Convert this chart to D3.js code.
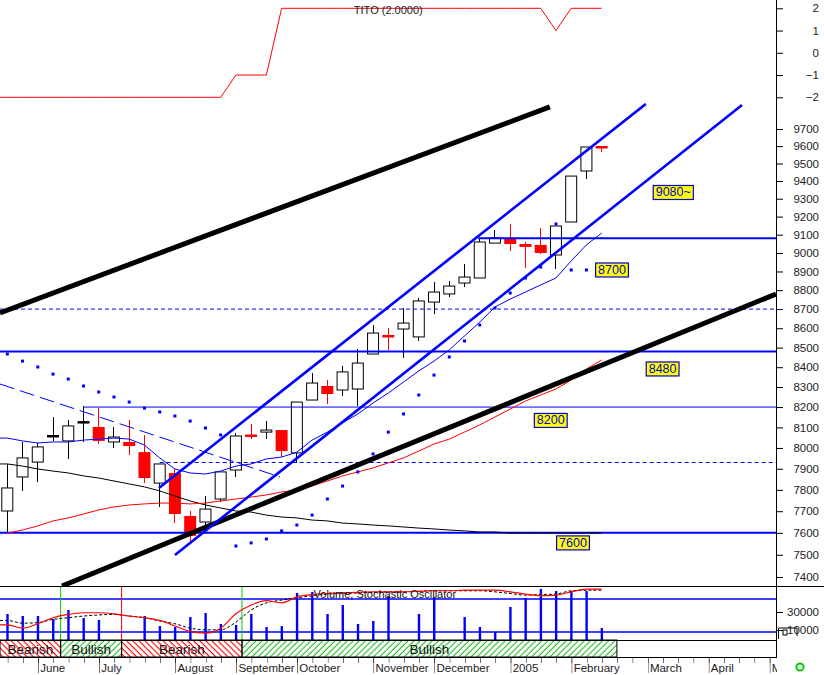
<!DOCTYPE html>
<html><head><meta charset="utf-8">
<script src="https://cdn.jsdelivr.net/npm/d3@7"></script>
<style>body{margin:0;background:#fff}svg{display:block;font-family:Arial,"Liberation Sans",sans-serif}</style>
</head><body><svg id="c" width="824" height="675"></svg>
<script>
// ---------------- DATA ----------------
const weeks = d3.range(40);
const open  = [7701,7861,7932,8058,8034,8126,8102,8029,8029,7980,7832,7880,7678,7650,7757,7894,8063,8077,8087,7976,8235,8305,8285,8290,8467,8562,8596,8555,8737,8780,8838,8865,9054,9082,9049,9044,8989,9170,9457,9597];
const high  = [7923,8029,8024,8151,8136,8205,8195,8102,8136,8063,7923,7899,7701,7771,7885,8073,8117,8131,8087,8225,8371,8335,8406,8493,8617,8601,8706,8758,8844,8849,8940,9076,9126,9159,9060,9137,9148,9428,9595,9600];
const low   = [7599,7795,7837,8034,7947,8029,8019,8000,7966,7832,7720,7645,7563,7627,7743,7861,8043,8043,7956,7928,8235,8215,8255,8205,8467,8488,8447,8534,8674,8764,8817,8865,9054,9011,8919,8995,8913,9170,9411,9566];
const close = [7809,7952,8005,8058,8107,8126,8034,8053,8009,7856,7923,7687,7586,7710,7885,8058,8058,8087,7985,8225,8320,8265,8376,8421,8575,8558,8627,8743,8790,8822,8870,9060,9082,9049,9033,9000,9148,9428,9595,9593];
const sar   = [8467,8431,8401,8365,8340,8305,8275,8250,8225,8195,8176,8156,8131,8097,8063,7540,7554,7572,7609,7636,7682,7757,7818,7885,7971,8077,8166,8260,8360,8452,8534,8617,8706,8785,8865,8924,9159,8908,8908,null];
const redMA   = [7599,7613,7632,7655,7669,7687,7706,7720,7729,7734,7738,7738,7734,7738,7748,7757,7766,7776,7790,7799,7818,7842,7866,7885,7904,7928,7952,7985,8019,8043,8077,8112,8151,8190,8230,8260,8290,8335,8391,8436];
const blueMA  = [8048,8034,8024,8029,8029,8038,8043,8048,8043,8014,7952,7899,7880,7875,7889,7913,7923,7947,7956,7980,8038,8077,8122,8166,8220,8270,8325,8381,8431,8488,8560,8632,8711,8753,8790,8828,8865,8957,9044,9109];
const blackMA = [7923,7913,7899,7889,7880,7866,7856,7842,7828,7814,7795,7771,7748,7729,7715,7701,7696,7682,7673,7669,7659,7655,7645,7641,7636,7632,7627,7622,7618,7613,7609,7604,7604,7599,7599,7599,7599,7599,7599,7599];
const volume  = [27800,25600,25600,22200,32200,23300,21100,0,0,25600,14400,13300,24400,28900,16700,15600,27800,13300,14400,51100,52200,27800,37800,16700,20000,47800,0,27800,46700,0,24400,13300,7800,35600,45600,55600,53300,53300,53300,12200];
const stochK  = [33,27,35,46,52,55,55,53,49,46,41,31,21,18,27,53,69,77,73,84,88,90,91,92,93,93,93,94,95,95,96,96,96,93,89,86,87,93,98,98];
const stochD  = [41,36,37,43,46,49,51,52,49,46,40,35,27,24,24,38,60,73,78,82,86,89,90,91,92,93,93,94,95,95,95,95,93,90,87,88,89,95,96,96];
const stochLevels = [80, 20];
const tito    = [-2,-2,-2,-2,-2,-2,-2,-2,-2,-2,-2,-2,-2,-2,-2,-1,-1,-1,2,2,2,2,2,2,2,2,2,2,2,2,2,2,2,2,2,2,1,2,2,2];

// trend lines: [week, price] endpoints
const trendBlack = [[[-0.48,8680],[35.6,9830]], [[3.59,7360],[50.44,8780]]];
const trendBlue  = [[[9.95,7809],[41.9,9848]], [[11.0,7499],[48.21,9842]]];
const dashDiag   = [[-0.48,8315],[17.89,7861]];
// horizontal levels
const levelPrice = [9080, 8480, 8200, 7600];
const levelFrom  = [30.9, -0.48, 5.0, -0.48];
const levelWidth = [2, 2, 1, 2];
const dashPrice  = [8700, 7930];
const dashFrom   = [-0.48, 10.0];
// yellow labels
const tagText  = ["9080~", "8700", "8480", "8200", "7600"];
const tagWeek  = [43.7, 39.68, 43.0, 35.66, 37.12];
const tagPrice = [9335, 8908, 8391, 8134, 7554];
// signal band
const sigText  = ["Bearish","Bullish","Bearish","Bullish"];
const sigStart = [null, 3.5, 7.5, 15.4];
const sigEnd   = [3.5, 7.5, 15.4, 40];
const sigLineColor = [null, "#00cc00", "#ff0000", "#00cc00"];
// axis labels
const monthLabels = ["June","July","August","September","October","November","December","2005","February","March","April","May"];
const monthWeeks  = [2,6,11,15,19,24,28,33,37,42,46,50];
const priceTicks  = d3.range(7400, 9701, 100);
const priceMinor  = d3.range(7400, 9801, 50);
const titoTicks   = [-2,-1,0,1,2];
const titoMinor   = [-2.5,-1.5,-0.5,0.5,1.5];
const volTicks    = [10000, 30000];
const volMinor    = [0, 20000, 40000, 50000];

// ---------------- SCALES ----------------
const AX = 776;
const x  = d3.scaleLinear().domain([0, 50]).range([7.3, 769.3]);
const yP = d3.scaleLog().domain([7400, 9700]).range([577, 129]);
const yT = d3.scaleLinear().domain([-2, 2]).range([97.3, 8.3]);
const yV = d3.scaleLinear().domain([0, 30000]).range([639, 612]);
const yS = d3.scaleLinear().domain([0, 100]).range([643, 588]);
const w0 = x.invert(0);

const BLUE = "#0000ff", RED = "#ff0000";
const svg = d3.select('#c');
const defs = svg.append('defs');
function clip(id, x0, y0, w, h){ defs.append('clipPath').attr('id', id).append('rect').attr('x', x0).attr('y', y0).attr('width', w).attr('height', h); }
clip('cp', 0, 103, AX, 483);
clip('ct', 0, 0, AX, 104);
clip('cv', 0, 587, AX, 53);
function hatch(id, color, angle){
  const p = defs.append('pattern').attr('id', id).attr('patternUnits', 'userSpaceOnUse')
    .attr('width', 4.3).attr('height', 4.3).attr('patternTransform', `rotate(${angle})`);
  p.append('line').attr('x1', 2).attr('y1', 0).attr('x2', 2).attr('y2', 4.3).attr('stroke', color).attr('stroke-width', 1.1);
}
hatch('hr', RED, -45); hatch('hg', '#22bb22', 45);

// ---------------- TITO PANEL ----------------
const gT = svg.append('g').attr('clip-path', 'url(#ct)');
const titoPts = [[w0, tito[0]]].concat(weeks.map(i => [i, tito[i]]));
gT.append('path').attr('d', d3.line().x(d => x(d[0])).y(d => yT(d[1]))(titoPts))
  .attr('fill', 'none').attr('stroke', RED).attr('stroke-width', 1);
svg.append('text').attr('x', x(25)).attr('y', yT(2) + 2.5).attr('text-anchor', 'middle')
  .attr('dominant-baseline', 'middle').attr('font-size', 11).attr('fill', '#222').text('TITO (2.0000)');

// ---------------- PRICE PANEL ----------------
const gP = svg.append('g').attr('clip-path', 'url(#cp)');

// candles
const cw = 12;
weeks.forEach(i => {
  const o = open[i], c = close[i], h = high[i], l = low[i];
  const doji = o === c, up = c > o;
  const col = doji ? '#000' : (up ? '#000' : RED);
  gP.append('line').attr('x1', x(i)).attr('x2', x(i)).attr('y1', yP(h)).attr('y2', yP(l))
    .attr('stroke', col).attr('stroke-width', 1).attr('shape-rendering', 'crispEdges');
  const top = yP(Math.max(o, c)), bot = yP(Math.min(o, c));
  let hgt = Math.max(bot - top, 2);
  let yy = doji || hgt === 2 ? (top + bot) / 2 - 1 : top;
  if (doji) {
    gP.append('rect').attr('x', x(i) - cw / 2).attr('y', yy).attr('width', cw).attr('height', 2.5).attr('fill', '#000');
  } else if (up) {
    gP.append('rect').attr('x', x(i) - cw / 2 + 0.5).attr('y', top).attr('width', cw - 1).attr('height', hgt)
      .attr('fill', '#fff').attr('stroke', '#000').attr('stroke-width', 1);
  } else {
    gP.append('rect').attr('x', x(i) - cw / 2).attr('y', yy).attr('width', cw).attr('height', hgt + (hgt === 2 ? 0.5 : 0)).attr('fill', RED);
  }
});

// horizontal levels
levelPrice.forEach((p, k) => {
  gP.append('line').attr('x1', x(levelFrom[k])).attr('x2', AX).attr('y1', yP(p)).attr('y2', yP(p))
    .attr('stroke', BLUE).attr('stroke-width', levelWidth[k]);
});
dashPrice.forEach((p, k) => {
  gP.append('line').attr('x1', x(dashFrom[k])).attr('x2', AX).attr('y1', yP(p)).attr('y2', yP(p))
    .attr('stroke', BLUE).attr('stroke-width', 1).attr('stroke-dasharray', '4,3');
});

// moving averages
const maLine = d3.line().x(d => x(d[0])).y(d => yP(d[1]));
function ma(arr, color, extend){
  const pts = (extend ? [[w0, arr[0]]] : []).concat(weeks.map(i => [i, arr[i]]));
  gP.append('path').attr('d', maLine(pts)).attr('fill', 'none').attr('stroke', color).attr('stroke-width', 1);
}
ma(blackMA, '#000', true);
ma(redMA, RED, false);
ma(blueMA, BLUE, true);
gP.append('path').attr('d', maLine(dashDiag)).attr('fill', 'none').attr('stroke', BLUE)
  .attr('stroke-width', 1).attr('stroke-dasharray', '15,6');

// trend lines
trendBlack.forEach(t => gP.append('path').attr('d', maLine(t)).attr('stroke', '#000').attr('stroke-width', 5).attr('fill', 'none'));
trendBlue.forEach(t => gP.append('path').attr('d', maLine(t)).attr('stroke', BLUE).attr('stroke-width', 2.6).attr('fill', 'none'));

// SAR dots
weeks.forEach(i => {
  if (sar[i] == null) return;
  gP.append('rect').attr('x', x(i) - 1.5).attr('y', yP(sar[i]) - 1.5).attr('width', 3).attr('height', 3).attr('fill', BLUE);
});

// yellow tags
tagText.forEach((t, k) => {
  const g = svg.append('g');
  const tx = g.append('text').attr('x', x(tagWeek[k])).attr('y', yP(tagPrice[k])).attr('text-anchor', 'middle')
    .attr('dominant-baseline', 'central').attr('font-size', 12.5).attr('fill', '#0000d0').text(t);
  const bw = tx.node().getComputedTextLength() + 5;
  g.insert('rect', 'text').attr('x', x(tagWeek[k]) - bw / 2).attr('y', yP(tagPrice[k]) - 7).attr('width', bw).attr('height', 14)
    .attr('fill', '#ffff00').attr('stroke', '#0000d0').attr('stroke-width', 1.2);
});

// ---------------- VOLUME / STOCHASTIC PANEL ----------------
const gV = svg.append('g').attr('clip-path', 'url(#cv)');
stochLevels.forEach(v => gV.append('line').attr('x1', 0).attr('x2', AX).attr('y1', yS(v)).attr('y2', yS(v))
  .attr('stroke', BLUE).attr('stroke-width', 1.5));
sigStart.forEach((s, k) => {
  if (s == null) return;
  gV.append('line').attr('x1', x(s)).attr('x2', x(s)).attr('y1', 586).attr('y2', 640).attr('stroke', sigLineColor[k]).attr('stroke-width', 1);
});
weeks.forEach(i => {
  if (!volume[i]) return;
  gV.append('rect').attr('x', x(i) - 1).attr('y', yV(volume[i])).attr('width', 2.4).attr('height', yV(0) - yV(volume[i]) + 1).attr('fill', BLUE);
});
const sLine = d3.line().x(d => x(d[0])).y(d => yS(d[1])).curve(d3.curveMonotoneX);
gV.append('path').attr('d', sLine([[w0, stochD[0]]].concat(weeks.map(i => [i, stochD[i]]))))
  .attr('fill', 'none').attr('stroke', '#000').attr('stroke-width', 1).attr('stroke-dasharray', '3,2');
gV.append('path').attr('d', sLine([[w0, stochK[0]]].concat(weeks.map(i => [i, stochK[i]]))))
  .attr('fill', 'none').attr('stroke', RED).attr('stroke-width', 1.2);
svg.append('text').attr('x', x(20.1)).attr('y', 595).attr('dominant-baseline', 'middle').attr('font-size', 11)
  .attr('fill', '#111').text('Volume, Stochastic Oscillator');

// ---------------- SIGNAL BAND ----------------
const gB = svg.append('g');
sigText.forEach((t, k) => {
  const s = sigStart[k] == null ? w0 : sigStart[k];
  const xa = x(s), xb = x(sigEnd[k]);
  gB.append('rect').attr('x', xa).attr('y', 640).attr('width', xb - xa).attr('height', 17)
    .attr('fill', t === 'Bearish' ? 'url(#hr)' : 'url(#hg)').attr('stroke', '#000').attr('stroke-width', 1);
  gB.append('text').attr('x', (xa + xb) / 2).attr('y', 649).attr('text-anchor', 'middle')
    .attr('dominant-baseline', 'central').attr('font-size', 13.5).attr('fill', '#111').text(t);
});

// ---------------- FRAME LINES ----------------
svg.append('line').attr('x1', 0).attr('x2', 824).attr('y1', 586.5).attr('y2', 586.5).attr('stroke', '#000');
svg.append('line').attr('x1', 0).attr('x2', AX).attr('y1', 640.5).attr('y2', 640.5).attr('stroke', '#000');
svg.append('line').attr('x1', AX + 0.5).attr('x2', AX + 0.5).attr('y1', 0).attr('y2', 657).attr('stroke', '#000');

// ---------------- AXES ----------------
function rightAxis(scale, major, minor, fmt){
  const g = svg.append('g').attr('transform', `translate(${AX},0)`);
  g.call(d3.axisRight(scale).tickValues(minor).tickSize(4).tickFormat(''));
  g.call(d3.axisRight(scale).tickValues(major).tickSize(7).tickFormat(fmt));
  g.selectAll('.domain').remove();
  g.selectAll('text').attr('x', 43).attr('text-anchor', 'end').attr('font-size', 11.5)
    .attr('font-family', 'Arial, "Liberation Sans", sans-serif').attr('fill', '#222');
  g.selectAll('line').attr('stroke', '#000');
  return g;
}
rightAxis(yT, titoTicks, titoMinor, d3.format('d'));
rightAxis(yP, priceTicks, priceMinor.filter(v => yP(v) > 103 && yP(v) < 586), d3.format('d'));
rightAxis(yV, volTicks, volMinor, d3.format('d'));
// small glyph over volume label
svg.append('path').attr('d', `M${AX + 2.5},${yV(0)} V${yV(10000) - 2} H${AX + 21} V${yV(10000) + 6}`)
  .attr('fill', 'none').attr('stroke', '#000');
svg.append('rect').attr('x', AX + 7).attr('y', yV(10000)).attr('width', 4).attr('height', 5)
  .attr('fill', '#fff').attr('stroke', '#000');

// x axis (weeks, month labels)
defs.append('clipPath').attr('id', 'cxl').append('rect').attr('x', 0).attr('y', -5).attr('width', AX + 1).attr('height', 30);
const xa = svg.append('g').attr('transform', 'translate(0,657)');
xa.append('g').call(d3.axisBottom(x).tickValues(d3.range(0, 51)).tickSize(6).tickFormat(''));
const xm = xa.append('g').call(d3.axisBottom(x).tickValues(monthWeeks).tickSize(16).tickFormat((d, i) => monthLabels[i]));
xa.selectAll('.domain').remove();
xa.append('line').attr('x1', 0).attr('x2', AX + 1).attr('y1', 0.5).attr('y2', 0.5).attr('stroke', '#000');
xm.selectAll('text').attr('x', 2).attr('y', 6.5).attr('text-anchor', 'start').attr('font-size', 11.5)
  .attr('font-family', 'Arial, "Liberation Sans", sans-serif').attr('fill', '#222');
xa.selectAll('g').attr('clip-path', 'url(#cxl)');
xa.selectAll('line').attr('stroke', '#000');

// green status circle
svg.append('circle').attr('cx', 800).attr('cy', 667).attr('r', 3.6).attr('fill', 'none').attr('stroke', '#00cc00').attr('stroke-width', 2);
</script>
</body></html>
